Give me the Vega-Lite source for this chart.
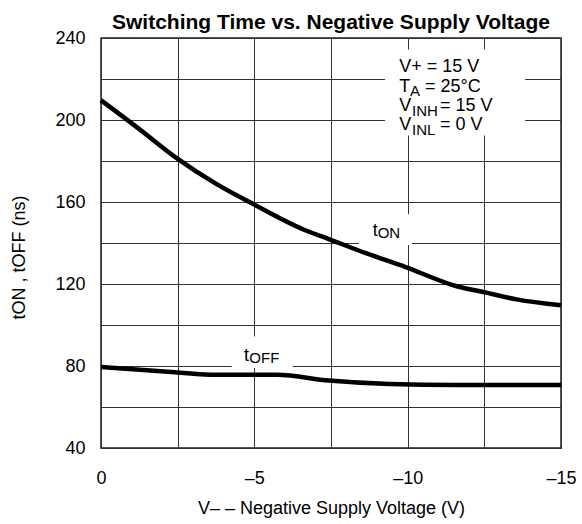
{
  "$schema": "https://vega.github.io/schema/vega-lite/v6.json",
  "width": 460,
  "height": 410,
  "autosize": {"type": "none"},
  "padding": {"left": 101, "top": 38, "right": 21, "bottom": 76},
  "background": "white",
  "title": {
    "text": "Switching Time vs. Negative Supply Voltage",
    "fontSize": 21,
    "fontWeight": "bold",
    "font": "Liberation Sans",
    "color": "black",
    "baseline": "alphabetic",
    "offset": 10,
    "dy": 31,
    "anchor": "middle"
  },
  "config": {
    "view": {"stroke": "#222", "strokeWidth": 1.5},
    "font": "Liberation Sans"
  },
  "layer": [
    {
      "data": {"values": [{}]},
      "mark": {"type": "rect", "color": "white"},
      "encoding": {
        "x": {"datum": -9.26}, "x2": {"datum": -13.83},
        "y": {"datum": 192.5}, "y2": {"datum": 234.4}
      }
    },
    {
      "data": {"values": [{}]},
      "mark": {"type": "rect", "color": "white"},
      "encoding": {
        "x": {"datum": -8.41}, "x2": {"datum": -10.14},
        "y": {"datum": 139}, "y2": {"datum": 154}
      }
    },
    {
      "data": {"values": [{}]},
      "mark": {"type": "rect", "color": "white"},
      "encoding": {
        "x": {"datum": -4.26}, "x2": {"datum": -6.25},
        "y": {"datum": 79}, "y2": {"datum": 94.4}
      }
    },
    {
      "data": {
        "values": [
          {"series": "tON", "V": 0, "t": 209.6},
          {"series": "tON", "V": -1.27, "t": 195.3},
          {"series": "tON", "V": -2.41, "t": 182.0},
          {"series": "tON", "V": -3.77, "t": 168.7},
          {"series": "tON", "V": -4.95, "t": 159.1},
          {"series": "tON", "V": -6.6, "t": 146.6},
          {"series": "tON", "V": -7.43, "t": 141.9},
          {"series": "tON", "V": -8.66, "t": 134.9},
          {"series": "tON", "V": -9.91, "t": 128.4},
          {"series": "tON", "V": -11.6, "t": 118.9},
          {"series": "tON", "V": -12.43, "t": 116.2},
          {"series": "tON", "V": -13.55, "t": 112.5},
          {"series": "tON", "V": -15, "t": 109.6},
          {"series": "tOFF", "V": 0, "t": 79.5},
          {"series": "tOFF", "V": -2.41, "t": 76.9},
          {"series": "tOFF", "V": -3.77, "t": 75.7},
          {"series": "tOFF", "V": -5.73, "t": 75.7},
          {"series": "tOFF", "V": -7.43, "t": 72.9},
          {"series": "tOFF", "V": -9.4, "t": 71.2},
          {"series": "tOFF", "V": -11.6, "t": 70.7},
          {"series": "tOFF", "V": -15, "t": 70.7}
        ]
      },
      "mark": {"type": "line", "color": "black", "strokeWidth": 4.5, "interpolate": "monotone"},
      "encoding": {
        "x": {
          "field": "V", "type": "quantitative",
          "scale": {"domain": [-15, 0], "reverse": true, "nice": false, "zero": false},
          "axis": {
            "values": [0, -2.5, -5, -7.5, -10, -12.5, -15],
            "labelExpr": "datum.value == 0 ? '0' : (datum.value % 5 == 0 ? '–' + format(-datum.value, 'd') : '')",
            "title": "V– – Negative Supply Voltage (V)",
            "grid": true, "gridColor": "#333", "gridOpacity": 1, "gridWidth": 1,
            "domain": false, "ticks": false, "tickSize": 0,
            "labelPadding": 21, "labelFontSize": 18, "labelColor": "black", "labelFont": "Liberation Sans",
            "labelFlush": false, "labelOverlap": false,
            "titleFontSize": 18, "titleFontWeight": "normal", "titleColor": "black", "titleFont": "Liberation Sans",
            "titlePadding": 12
          }
        },
        "y": {
          "field": "t", "type": "quantitative",
          "scale": {"domain": [40, 240], "nice": false, "zero": false},
          "axis": {
            "values": [40, 60, 80, 100, 120, 140, 160, 180, 200, 220, 240],
            "labelExpr": "datum.value % 40 == 0 ? datum.label : ''",
            "title": "tON , tOFF (ns)",
            "grid": true, "gridColor": "#333", "gridOpacity": 1, "gridWidth": 1,
            "domain": false, "ticks": false, "tickSize": 0,
            "labelPadding": 16, "labelFontSize": 18, "labelColor": "black", "labelFont": "Liberation Sans",
            "labelFlush": false, "labelOverlap": false,
            "titleFontSize": 18, "titleFontWeight": "normal", "titleColor": "black", "titleFont": "Liberation Sans",
            "titlePadding": 26, "titleY": 219
          }
        },
        "detail": {"field": "series"}
      }
    },
    {
      "data": {"values": [{}]},
      "mark": {"type": "text", "align": "left", "baseline": "alphabetic", "fontSize": 18, "font": "Liberation Sans", "color": "black"},
      "encoding": {"x": {"datum": -9.727}, "y": {"datum": 223.6}, "text": {"value": "V+ = 15 V"}}
    },
    {
      "data": {"values": [{}]},
      "mark": {"type": "text", "align": "left", "baseline": "alphabetic", "fontSize": 18, "font": "Liberation Sans", "color": "black"},
      "encoding": {"x": {"datum": -9.727}, "y": {"datum": 213.8}, "text": {"value": "T"}}
    },
    {
      "data": {"values": [{}]},
      "mark": {"type": "text", "align": "left", "baseline": "alphabetic", "fontSize": 15, "font": "Liberation Sans", "color": "black"},
      "encoding": {"x": {"datum": -10.076}, "y": {"datum": 211.6}, "text": {"value": "A"}}
    },
    {
      "data": {"values": [{}]},
      "mark": {"type": "text", "align": "left", "baseline": "alphabetic", "fontSize": 18, "font": "Liberation Sans", "color": "black"},
      "encoding": {"x": {"datum": -10.565}, "y": {"datum": 213.8}, "text": {"value": "= 25°C"}}
    },
    {
      "data": {"values": [{}]},
      "mark": {"type": "text", "align": "left", "baseline": "alphabetic", "fontSize": 18, "font": "Liberation Sans", "color": "black"},
      "encoding": {"x": {"datum": -9.727}, "y": {"datum": 204.2}, "text": {"value": "V"}}
    },
    {
      "data": {"values": [{}]},
      "mark": {"type": "text", "align": "left", "baseline": "alphabetic", "fontSize": 15, "font": "Liberation Sans", "color": "black"},
      "encoding": {"x": {"datum": -10.141}, "y": {"datum": 202.1}, "text": {"value": "INH"}}
    },
    {
      "data": {"values": [{}]},
      "mark": {"type": "text", "align": "left", "baseline": "alphabetic", "fontSize": 18, "font": "Liberation Sans", "color": "black"},
      "encoding": {"x": {"datum": -11.054}, "y": {"datum": 204.2}, "text": {"value": "= 15 V"}}
    },
    {
      "data": {"values": [{}]},
      "mark": {"type": "text", "align": "left", "baseline": "alphabetic", "fontSize": 18, "font": "Liberation Sans", "color": "black"},
      "encoding": {"x": {"datum": -9.727}, "y": {"datum": 195.1}, "text": {"value": "V"}}
    },
    {
      "data": {"values": [{}]},
      "mark": {"type": "text", "align": "left", "baseline": "alphabetic", "fontSize": 15, "font": "Liberation Sans", "color": "black"},
      "encoding": {"x": {"datum": -10.141}, "y": {"datum": 192.7}, "text": {"value": "INL"}}
    },
    {
      "data": {"values": [{}]},
      "mark": {"type": "text", "align": "left", "baseline": "alphabetic", "fontSize": 18, "font": "Liberation Sans", "color": "black"},
      "encoding": {"x": {"datum": -11.054}, "y": {"datum": 195.1}, "text": {"value": "= 0 V"}}
    },
    {
      "data": {"values": [{}]},
      "mark": {"type": "text", "align": "left", "baseline": "alphabetic", "fontSize": 18, "font": "Liberation Sans", "color": "black"},
      "encoding": {"x": {"datum": -8.86}, "y": {"datum": 143.3}, "text": {"value": "t"}}
    },
    {
      "data": {"values": [{}]},
      "mark": {"type": "text", "align": "left", "baseline": "alphabetic", "fontSize": 15, "font": "Liberation Sans", "color": "black"},
      "encoding": {"x": {"datum": -9.023}, "y": {"datum": 142.6}, "text": {"value": "ON"}}
    },
    {
      "data": {"values": [{}]},
      "mark": {"type": "text", "align": "left", "baseline": "alphabetic", "fontSize": 18, "font": "Liberation Sans", "color": "black"},
      "encoding": {"x": {"datum": -4.663}, "y": {"datum": 82.5}, "text": {"value": "t"}}
    },
    {
      "data": {"values": [{}]},
      "mark": {"type": "text", "align": "left", "baseline": "alphabetic", "fontSize": 15, "font": "Liberation Sans", "color": "black"},
      "encoding": {"x": {"datum": -4.836}, "y": {"datum": 81.6}, "text": {"value": "OFF"}}
    }
  ]
}
